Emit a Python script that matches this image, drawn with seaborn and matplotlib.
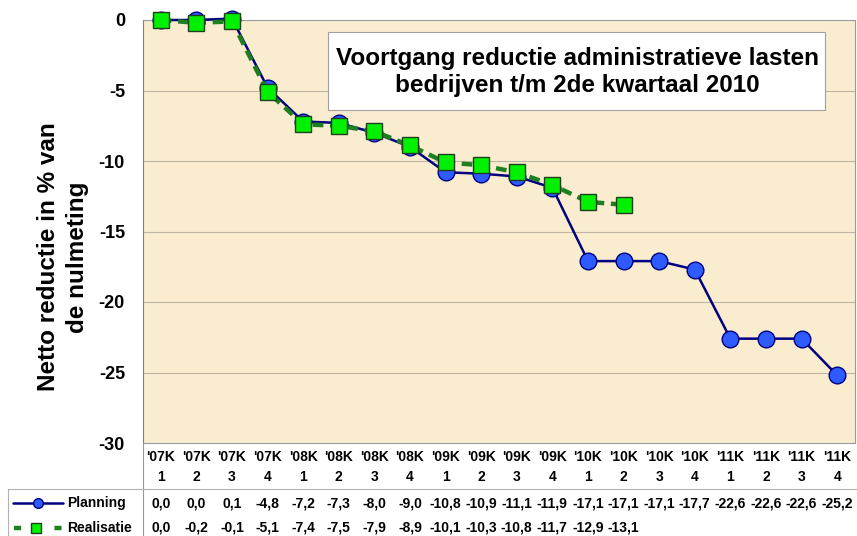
"""
Voortgang reductie administratieve lasten - planning vs realisatie
"""

import matplotlib
matplotlib.use('Agg')
import matplotlib.pyplot as plt
from matplotlib.lines import Line2D
from matplotlib.patches import FancyBboxPatch
import numpy as np
import pandas as pd
import seaborn as sns


quarters = ["'07K\n1", "'07K\n2", "'07K\n3", "'07K\n4",
            "'08K\n1", "'08K\n2", "'08K\n3", "'08K\n4",
            "'09K\n1", "'09K\n2", "'09K\n3", "'09K\n4",
            "'10K\n1", "'10K\n2", "'10K\n3", "'10K\n4",
            "'11K\n1", "'11K\n2", "'11K\n3", "'11K\n4"]
planning = [0.0, 0.0, 0.1, -4.8, -7.2, -7.3, -8.0, -9.0, -10.8, -10.9,
            -11.1, -11.9, -17.1, -17.1, -17.1, -17.7, -22.6, -22.6, -22.6, -25.2]
realisatie = [0.0, -0.2, -0.1, -5.1, -7.4, -7.5, -7.9, -8.9, -10.1, -10.3,
              -10.8, -11.7, -12.9, -13.1]

title = 'Voortgang reductie administratieve lasten\nbedrijven t/m 2de kwartaal 2010'
ylabel = 'Netto reductie in % van\nde nulmeting'

W, H = 857, 536
FONT = 'Liberation Sans'
TXT = dict(family=FONT, weight='bold', color='black')


def fx(px):
    return px / W


def fy(py):
    return 1 - py / H


def fmt(v):
    return f'{v:.1f}'.replace('.', ',')


def main():
    sns.set_style('white')
    plt.rcParams['font.family'] = FONT
    plt.rcParams['font.weight'] = 'bold'
    plt.rcParams['text.color'] = 'black'
    plt.rcParams['axes.labelcolor'] = 'black'
    plt.rcParams['ytick.color'] = 'black'

    fig = plt.figure(figsize=(W / 100, H / 100), dpi=100)
    fig.patch.set_facecolor('white')

    ax = fig.add_axes([fx(143), fy(443), fx(855) - fx(143), fy(20) - fy(443)])
    ax.set_facecolor('#FAEDCF')

    idx = np.arange(len(quarters))
    df_plan = pd.DataFrame({'x': idx, 'y': planning})
    df_real = pd.DataFrame({'x': idx[:len(realisatie)], 'y': realisatie})

    sns.lineplot(data=df_plan, x='x', y='y', ax=ax, color='#000080', lw=1.8,
                 marker='o', markersize=12, markerfacecolor='#2E5BFF',
                 markeredgecolor='#000080', markeredgewidth=1.0, zorder=3,
                 clip_on=False)
    sns.lineplot(data=df_real, x='x', y='y', ax=ax, color='#1E7F1E', lw=3.2,
                 linestyle=(0, (2.4, 1.5)),
                 marker='s', markersize=12, markerfacecolor='#00F000',
                 markeredgecolor='#1F3F1F', markeredgewidth=1.0, zorder=4,
                 clip_on=False)

    ax.set_xlim(-0.5, len(quarters) - 0.5)
    ax.set_ylim(-30, 0)
    ax.set_yticks(range(-30, 1, 5))
    ax.set_yticklabels([str(v) for v in range(-30, 1, 5)], fontsize=13, **TXT)
    ax.set_xticks([])
    ax.set_xlabel('')
    ax.set_ylabel('')
    ax.tick_params(axis='y', direction='out', length=6, width=0.8, color='#808080', pad=7)
    ax.yaxis.grid(True, color='#BDB5A6', lw=0.8)
    for side in ['top', 'right', 'bottom']:
        ax.spines[side].set_color('#9A9A9A')
        ax.spines[side].set_linewidth(0.8)
    ax.spines['left'].set_color('#808080')
    ax.spines['left'].set_linewidth(0.8)

    fig.text(fx(63), fy(257), ylabel, rotation=90, ha='center', va='center',
             fontsize=17.5, linespacing=1.3, **TXT)

    # title box
    box = FancyBboxPatch((fx(328), fy(110)), fx(825) - fx(328), fy(32) - fy(110),
                         boxstyle='square,pad=0', transform=fig.transFigure,
                         facecolor='white', edgecolor='#A0A0A0', lw=0.8, zorder=5)
    fig.patches.append(box)
    fig.text(fx(577), fy(72), title, ha='center', va='center', fontsize=17.5,
             linespacing=1.2, zorder=6, **TXT)

    # data table underneath
    tab = fig.add_axes([fx(143), 0, fx(855) - fx(143), fy(443)])
    tab.set_xlim(-0.5, len(quarters) - 0.5)
    tab.set_ylim(H, 443)
    tab.axis('off')
    for i, q in enumerate(quarters):
        tab.text(i, 467, q, ha='center', va='center', fontsize=10,
                 linespacing=1.5, **TXT)
    for i, v in enumerate(planning):
        tab.text(i, 503, fmt(v), ha='center', va='center', fontsize=10, **TXT)
    for i, v in enumerate(realisatie):
        tab.text(i, 528, fmt(v), ha='center', va='center', fontsize=10, **TXT)

    # table grid lines
    fig.add_artist(Line2D([fx(143), fx(143)], [fy(443), 0], color='#9A9A9A', lw=0.8))
    fig.add_artist(Line2D([fx(8), 1], [fy(489), fy(489)], color='#B0B0B0', lw=0.8))
    fig.add_artist(Line2D([fx(8), fx(8)], [fy(489), 0], color='#B0B0B0', lw=0.8))

    # legend keys in table
    fig.add_artist(Line2D([fx(13), fx(63)], [fy(503), fy(503)], color='#000080', lw=1.8))
    fig.add_artist(Line2D([fx(38)], [fy(503)], marker='o', markersize=7,
                          markerfacecolor='#2E5BFF', markeredgecolor='#000080', lw=0))
    fig.add_artist(Line2D([fx(14), fx(64)], [fy(528), fy(528)], color='#1E7F1E', lw=3.2,
                          linestyle=(0, (1.6, 7.5))))
    fig.add_artist(Line2D([fx(36)], [fy(528)], marker='s', markersize=7,
                          markerfacecolor='#00F000', markeredgecolor='#1F3F1F', lw=0))
    fig.text(fx(67), fy(503), 'Planning', ha='left', va='center', fontsize=10, **TXT)
    fig.text(fx(67), fy(528), 'Realisatie', ha='left', va='center', fontsize=10, **TXT)

    fig.savefig('out.png', dpi=100)
    plt.close(fig)


if __name__ == '__main__':
    main()
